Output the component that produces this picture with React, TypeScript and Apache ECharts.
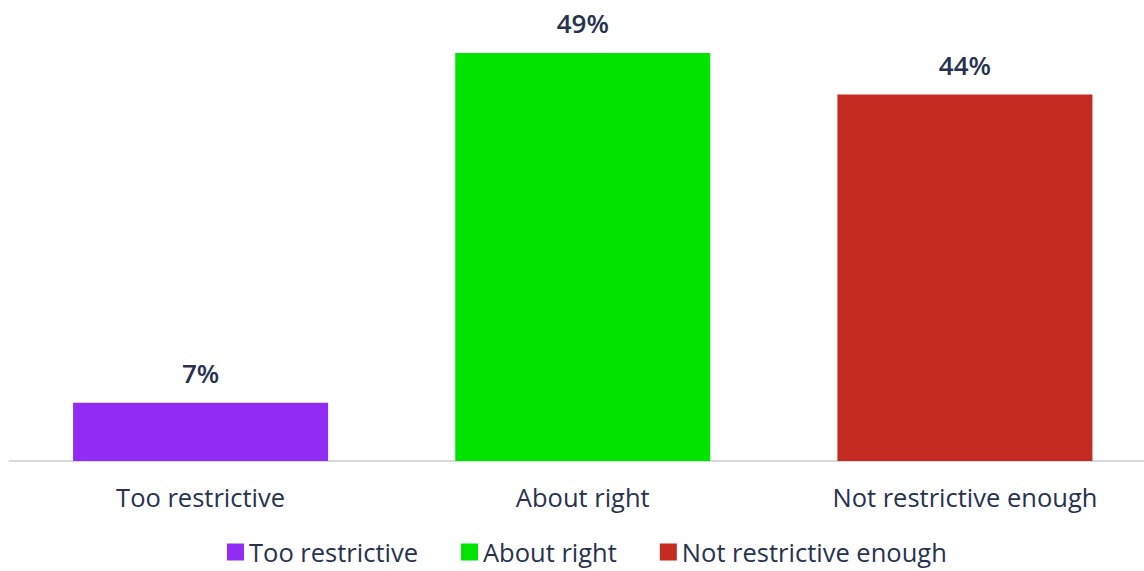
import React, { useEffect, useRef } from "react";
import * as echarts from "echarts";

const categories = ["Too restrictive", "About right", "Not restrictive enough"];
const seriesNames = ["Too restrictive", "About right", "Not restrictive enough"];
const values = [7, 49, 44];
const colors = ["#922cf4", "#00e400", "#c52a20"];

const TEXT = "#27324f";
const FONT = "'Open Sans', Lato, sans-serif";

export default function App() {
  const ref = useRef<HTMLDivElement>(null);

  useEffect(() => {
    if (!ref.current) return;
    const chart = echarts.init(ref.current, null, { renderer: "svg" });

    // One series per answer so each gets its own legend entry; barGap -100%
    // keeps every bar centred on its own category.
    const series = seriesNames.map((name, i) => ({
      name,
      type: "bar" as const,
      barWidth: 255,
      barGap: "-100%",
      itemStyle: { color: colors[i] },
      data: categories.map((_, j) => (j === i ? values[i] : "-")),
      label: {
        show: true,
        position: "top" as const,
        distance: 17,
        formatter: "{c}%",
        color: TEXT,
        fontFamily: FONT,
        fontWeight: 600,
        fontSize: 26,
      },
    }));

    chart.setOption({
      animation: false,
      backgroundColor: "#ffffff",
      textStyle: { fontFamily: FONT },
      grid: { left: 9.5, right: 0, top: 3, bottom: 110, containLabel: false },
      xAxis: {
        type: "category",
        data: categories,
        axisLine: { lineStyle: { color: "#d9d9d9", width: 2 } },
        axisTick: { show: false },
        axisLabel: {
          color: TEXT,
          fontFamily: FONT,
          fontSize: 25.5,
          margin: 23,
        },
      },
      yAxis: {
        type: "value",
        min: 0,
        max: 55,
        show: false,
        splitLine: { show: false },
      },
      legend: {
        left: 227,
        top: 539,
        padding: 0,
        icon: "rect",
        itemWidth: 17,
        itemHeight: 17,
        itemGap: 43,
        textStyle: {
          color: TEXT,
          fontFamily: FONT,
          fontSize: 25.5,
          lineHeight: 26,
        },
        data: seriesNames,
      },
      series,
    });

    return () => chart.dispose();
  }, []);

  // The plot runs a little past the right edge, so the canvas is wider than
  // the visible frame and the overflow is clipped.
  return (
    <div
      style={{
        position: "absolute",
        left: 0,
        top: 0,
        width: 1144,
        height: 571,
        overflow: "hidden",
      }}
    >
      <div ref={ref} style={{ width: 1156, height: 571 }} />
    </div>
  );
}
